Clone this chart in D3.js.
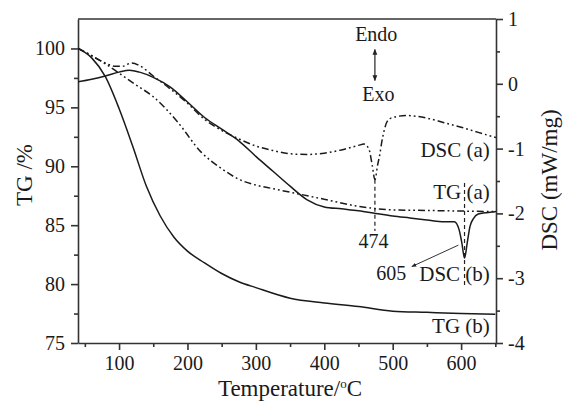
<!DOCTYPE html>
<html>
<head>
<meta charset="utf-8">
<script src="https://cdn.jsdelivr.net/npm/d3@7"></script>
<style>
  body { margin: 0; background: #fff; }
  text { font-family: "Liberation Serif", "Times New Roman", serif; fill: #1a1a1a; }
</style>
</head>
<body>
<div id="chart"></div>
<script>
// TG (b), solid
const tgB_T = [40, 60, 80, 100, 120, 140, 160, 180, 200, 225, 250, 275, 300, 350, 400, 450, 500, 550, 600, 650];
const tgB   = [100, 99.2, 97.6, 94.9, 91.7, 88.3, 85.8, 84.0, 82.8, 81.8, 80.9, 80.2, 79.7, 78.8, 78.4, 78.1, 77.7, 77.6, 77.5, 77.45];

// TG (a), dash-dot-dot
const tgA_T = [40, 60, 80, 100, 125, 150, 185, 220, 250, 275, 300, 325, 350, 400, 450, 500, 550, 600, 650];
const tgA   = [100, 99.4, 98.7, 97.9, 96.9, 95.9, 93.8, 91.2, 89.8, 88.9, 88.4, 88.1, 87.8, 87.2, 86.6, 86.3, 86.25, 86.2, 86.15];

// DSC (b), solid
const dscB_T = [40, 60, 80, 100, 115, 130, 150, 175, 200, 225, 250, 275, 300, 325, 350, 375, 400, 425, 450, 475, 500, 525, 550, 575, 590, 597, 601, 605, 609, 613, 618, 625, 635, 645, 651];
const dscB   = [0.03, 0.07, 0.12, 0.18, 0.21, 0.18, 0.10, -0.05, -0.28, -0.52, -0.70, -0.88, -1.12, -1.35, -1.58, -1.79, -1.90, -1.93, -1.96, -2.0, -2.04, -2.07, -2.10, -2.13, -2.13, -2.25, -2.45, -2.69, -2.45, -2.2, -2.08, -2.01, -1.99, -1.98, -1.97];

// DSC (a), dash-dot-dot
const dscA_T = [40, 60, 80, 95, 105, 118, 130, 150, 175, 200, 225, 250, 275, 300, 325, 350, 375, 400, 425, 450, 458, 465, 470, 474, 478, 481, 484, 488, 492, 500, 520, 550, 575, 600, 625, 651];
const dscA   = [0.55, 0.43, 0.32, 0.27, 0.27, 0.32, 0.28, 0.12, -0.08, -0.30, -0.55, -0.72, -0.85, -0.96, -1.03, -1.08, -1.09, -1.07, -1.02, -0.95, -0.93, -1.0, -1.25, -1.48, -1.25, -1.1, -0.9, -0.7, -0.58, -0.52, -0.49, -0.53, -0.6, -0.67, -0.75, -0.83];

// axes ticks
const xTicks = [100, 200, 300, 400, 500, 600];
const xMinor = [50, 150, 250, 350, 450, 550, 650];
const tgTicks = [75, 80, 85, 90, 95, 100];
const tgMinor = [77.5, 82.5, 87.5, 92.5, 97.5];
const dscTicks = [-4, -3, -2, -1, 0, 1];
const dscMinor = [-3.5, -2.5, -1.5, -0.5, 0.5];

// series labels (text, y in DSC units)
const seriesLabels = [
  { text: "DSC (a)", t: 642, d: -1.13 },
  { text: "TG (a)",  t: 642, d: -1.78 },
  { text: "DSC (b)", t: 642, d: -3.04 },
  { text: "TG (b)",  t: 642, d: -3.85 }
];

const size = {
  width: 563,
  height: 403,
  margin: { top: 19, right: 67, bottom: 60, left: 78 }
};

const drawChart = function(size) {
  const m = size.margin;
  const svg = d3.select("#chart").append("svg")
    .attr("width", size.width)
    .attr("height", size.height);

  const x = d3.scaleLinear().domain([40, 651]).range([m.left, size.width - m.right]);
  const yTG = d3.scaleLinear().domain([75, 102.5]).range([size.height - m.bottom, m.top]);
  const yD = d3.scaleLinear().domain([-4, 1]).range([size.height - m.bottom, m.top]);

  const defs = svg.append("defs");
  defs.append("clipPath").attr("id", "plot")
    .append("rect")
    .attr("x", m.left).attr("y", m.top)
    .attr("width", size.width - m.left - m.right)
    .attr("height", size.height - m.top - m.bottom);
  defs.append("marker").attr("id", "head")
    .attr("viewBox", "0 0 10 10").attr("refX", 9).attr("refY", 5)
    .attr("markerWidth", 5).attr("markerHeight", 5)
    .attr("orient", "auto-start-reverse")
    .append("path").attr("d", "M0,1L10,5L0,9z").attr("fill", "#222");

  const axisColor = "#333";
  const fmt = (d) => String(d);

  // bottom
  svg.append("g").attr("transform", `translate(0,${yTG.range()[0]})`)
    .call(d3.axisBottom(x).tickValues(xTicks).tickSize(7).tickSizeOuter(0).tickPadding(6).tickFormat(fmt));
  svg.append("g").attr("transform", `translate(0,${yTG.range()[0]})`)
    .call(d3.axisBottom(x).tickValues(xMinor).tickSize(4).tickFormat(""))
    .call(g => g.select(".domain").remove());

  // left
  svg.append("g").attr("transform", `translate(${m.left},0)`)
    .call(d3.axisLeft(yTG).tickValues(tgTicks).tickSize(7).tickSizeOuter(0).tickPadding(6).tickFormat(fmt));
  svg.append("g").attr("transform", `translate(${m.left},0)`)
    .call(d3.axisLeft(yTG).tickValues(tgMinor).tickSize(4).tickFormat(""))
    .call(g => g.select(".domain").remove());

  // right
  svg.append("g").attr("transform", `translate(${size.width - m.right},0)`)
    .call(d3.axisRight(yD).tickValues(dscTicks).tickSize(7).tickSizeOuter(0).tickPadding(5).tickFormat(fmt));
  svg.append("g").attr("transform", `translate(${size.width - m.right},0)`)
    .call(d3.axisRight(yD).tickValues(dscMinor).tickSize(4).tickFormat(""))
    .call(g => g.select(".domain").remove());

  // top frame line
  svg.append("line")
    .attr("x1", m.left).attr("x2", size.width - m.right)
    .attr("y1", m.top).attr("y2", m.top);

  svg.selectAll(".domain, .tick line, svg > line")
    .attr("stroke", axisColor).attr("stroke-width", 1.6);
  svg.selectAll(".tick text")
    .style("font-family", '"Liberation Serif", serif')
    .style("font-size", "20px").attr("fill", "#1a1a1a");

  // curves
  const plot = svg.append("g").attr("clip-path", "url(#plot)");
  const dashDotDot = "7,3,1.8,3,1.8,3";
  const curves = [
    { t: tgB_T, v: tgB, y: yTG, dash: null },
    { t: tgA_T, v: tgA, y: yTG, dash: dashDotDot },
    { t: dscB_T, v: dscB, y: yD, dash: null },
    { t: dscA_T, v: dscA, y: yD, dash: dashDotDot }
  ];
  curves.forEach(c => {
    const line = d3.line()
      .x((d, i) => x(c.t[i]))
      .y(d => c.y(d))
      .curve(d3.curveMonotoneX);
    plot.append("path")
      .attr("d", line(c.v))
      .attr("fill", "none")
      .attr("stroke", "#1a1a1a")
      .attr("stroke-width", 1.5)
      .attr("stroke-dasharray", c.dash);
  });

  // peak markers
  const ann = svg.append("g");
  ann.append("line")
    .attr("x1", x(474)).attr("x2", x(474))
    .attr("y1", yD(-1.48)).attr("y2", yD(-2.27))
    .attr("stroke", "#222").attr("stroke-width", 1.2).attr("stroke-dasharray", "4,3");
  ann.append("line")
    .attr("x1", x(605)).attr("x2", x(605))
    .attr("y1", yD(-1.53)).attr("y2", yD(-3.15))
    .attr("stroke", "#222").attr("stroke-width", 1.2).attr("stroke-dasharray", "4,3");
  ann.append("text")
    .attr("x", x(472)).attr("y", yD(-2.53))
    .attr("text-anchor", "middle").style("font-size", "20px").text("474");
  ann.append("text")
    .attr("x", x(498)).attr("y", yD(-3.03))
    .attr("text-anchor", "middle").style("font-size", "20px").text("605");
  ann.append("line")
    .attr("x1", x(596)).attr("y1", yD(-2.49))
    .attr("x2", x(528)).attr("y2", yD(-2.82))
    .attr("stroke", "#333").attr("stroke-width", 1)
    .attr("marker-end", "url(#head)");

  // Endo / Exo
  ann.append("text")
    .attr("x", x(476)).attr("y", yD(0.66))
    .attr("text-anchor", "middle").style("font-size", "20px").text("Endo");
  ann.append("text")
    .attr("x", x(479)).attr("y", yD(-0.27))
    .attr("text-anchor", "middle").style("font-size", "20px").text("Exo");
  ann.append("line")
    .attr("x1", x(474)).attr("x2", x(474))
    .attr("y1", yD(0.53)).attr("y2", yD(0.05))
    .attr("stroke", "#222").attr("stroke-width", 1.2)
    .attr("marker-start", "url(#head)").attr("marker-end", "url(#head)");

  // series labels
  ann.selectAll(".slabel").data(seriesLabels).enter().append("text")
    .attr("class", "slabel")
    .attr("x", d => x(d.t)).attr("y", d => yD(d.d))
    .attr("text-anchor", "end").style("font-size", "21px")
    .text(d => d.text);

  // axis titles
  const xt = svg.append("text")
    .attr("x", 290).attr("y", 396)
    .attr("text-anchor", "middle").style("font-size", "23px");
  xt.append("tspan").text("Temperature/");
  xt.append("tspan").attr("dy", -8).style("font-size", "13px").text("o");
  xt.append("tspan").attr("dy", 8).text("C");

  svg.append("text")
    .attr("transform", `translate(32,175) rotate(-90)`)
    .attr("text-anchor", "middle").style("font-size", "23px")
    .text("TG /%");

  svg.append("text")
    .attr("transform", `translate(557,180) rotate(-90)`)
    .attr("text-anchor", "middle").style("font-size", "23px")
    .text("DSC (mW/mg)");
};

window.onload = () => {
  drawChart(size);
};
</script>
</body>
</html>
